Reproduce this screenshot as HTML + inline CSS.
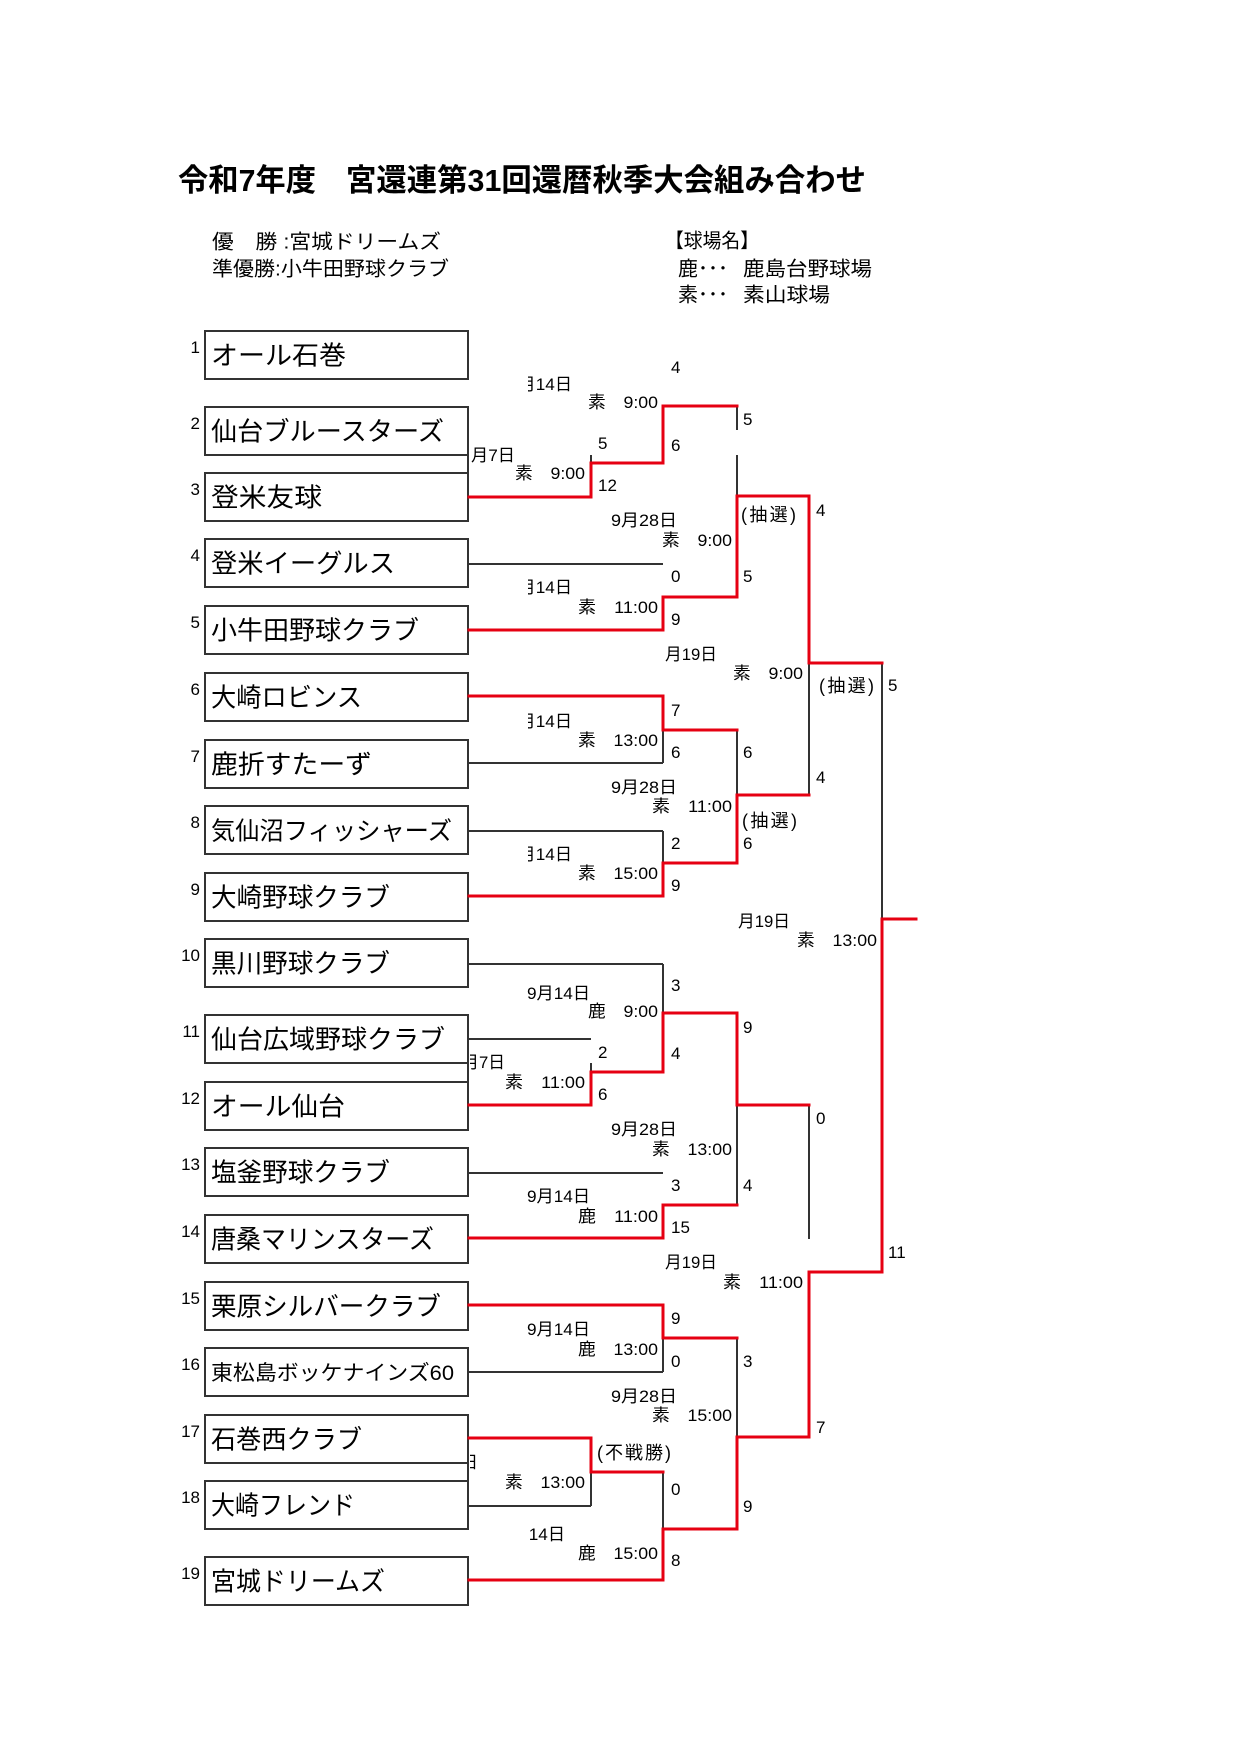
<!DOCTYPE html>
<html><head><meta charset="utf-8"><style>
html,body{margin:0;padding:0;background:#fff;}
svg{display:block;}
</style></head><body>
<svg width="1240" height="1755" viewBox="0 0 1240 1755" xmlns="http://www.w3.org/2000/svg">
<defs>
<clipPath id="c470"><rect x="470" y="0" width="800" height="1755"/></clipPath>
<clipPath id="c528"><rect x="528" y="0" width="800" height="1755"/></clipPath>
</defs>
<rect width="1240" height="1755" fill="#fff"/>

<!-- Title -->
<g font-family="'Liberation Sans','Noto Sans CJK JP',sans-serif" font-weight="700" font-size="31" fill="#000">
<text x="178" y="191" textLength="138" lengthAdjust="spacingAndGlyphs">令和7年度</text>
<text x="346" y="191" textLength="520" lengthAdjust="spacingAndGlyphs">宮還連第31回還暦秋季大会組み合わせ</text>
</g>

<!-- Header info -->
<g font-family="'Liberation Sans','Noto Sans CJK JP',sans-serif" font-size="20" fill="#000">
<text x="212" y="248.5" textLength="229" lengthAdjust="spacingAndGlyphs">優　勝 :宮城ドリームズ</text>
<text x="212" y="275.5" textLength="237" lengthAdjust="spacingAndGlyphs">準優勝:小牛田野球クラブ</text>
<text x="665" y="247.5" textLength="94" lengthAdjust="spacingAndGlyphs">【球場名】</text>
<text x="678" y="275.5">鹿･･･</text>
<text x="743" y="275.5" textLength="129" lengthAdjust="spacingAndGlyphs">鹿島台野球場</text>
<text x="678" y="301.5">素･･･</text>
<text x="743" y="301.5" textLength="87" lengthAdjust="spacingAndGlyphs">素山球場</text>
</g>

<!-- Boxes -->
<g fill="none" stroke="#333" stroke-width="2">
<rect x="205" y="331" width="263" height="48"/>
<rect x="205" y="407" width="263" height="48"/>
<rect x="205" y="473" width="263" height="48"/>
<rect x="205" y="539" width="263" height="48"/>
<rect x="205" y="606" width="263" height="48"/>
<rect x="205" y="673" width="263" height="48"/>
<rect x="205" y="740" width="263" height="48"/>
<rect x="205" y="806" width="263" height="48"/>
<rect x="205" y="873" width="263" height="48"/>
<rect x="205" y="939" width="263" height="48"/>
<rect x="205" y="1015" width="263" height="48"/>
<rect x="205" y="1082" width="263" height="48"/>
<rect x="205" y="1148" width="263" height="48"/>
<rect x="205" y="1215" width="263" height="48"/>
<rect x="205" y="1282" width="263" height="48"/>
<rect x="205" y="1348" width="263" height="48"/>
<rect x="205" y="1415" width="263" height="48"/>
<rect x="205" y="1481" width="263" height="48"/>
<rect x="205" y="1557" width="263" height="48"/>
</g>

<!-- Seed numbers -->
<g font-family="'Liberation Sans',sans-serif" font-size="17" fill="#000" text-anchor="end">
<text x="200" y="353">1</text>
<text x="200" y="429">2</text>
<text x="200" y="495">3</text>
<text x="200" y="561">4</text>
<text x="200" y="628">5</text>
<text x="200" y="695">6</text>
<text x="200" y="762">7</text>
<text x="200" y="828">8</text>
<text x="200" y="895">9</text>
<text x="200" y="961">10</text>
<text x="200" y="1037">11</text>
<text x="200" y="1104">12</text>
<text x="200" y="1170">13</text>
<text x="200" y="1237">14</text>
<text x="200" y="1304">15</text>
<text x="200" y="1370">16</text>
<text x="200" y="1437">17</text>
<text x="200" y="1503">18</text>
<text x="200" y="1579">19</text>
</g>

<!-- Team names -->
<g font-family="'Liberation Sans','Noto Sans CJK JP',sans-serif" font-size="26" fill="#000">
<text x="211" y="364.5" textLength="135" lengthAdjust="spacingAndGlyphs">オール石巻</text>
<text x="211" y="440.5" textLength="233" lengthAdjust="spacingAndGlyphs">仙台ブルースターズ</text>
<text x="211" y="506.5" textLength="111" lengthAdjust="spacingAndGlyphs">登米友球</text>
<text x="211" y="572.5" textLength="184" lengthAdjust="spacingAndGlyphs">登米イーグルス</text>
<text x="211" y="639.5" textLength="208" lengthAdjust="spacingAndGlyphs">小牛田野球クラブ</text>
<text x="211" y="706.5" textLength="151" lengthAdjust="spacingAndGlyphs">大崎ロビンス</text>
<text x="211" y="773.5" textLength="161" lengthAdjust="spacingAndGlyphs">鹿折すたーず</text>
<text x="211" y="839.5" textLength="241" lengthAdjust="spacingAndGlyphs" font-size="25">気仙沼フィッシャーズ</text>
<text x="211" y="906.5" textLength="179" lengthAdjust="spacingAndGlyphs">大崎野球クラブ</text>
<text x="211" y="972.5" textLength="179" lengthAdjust="spacingAndGlyphs">黒川野球クラブ</text>
<text x="211" y="1048.5" textLength="234" lengthAdjust="spacingAndGlyphs">仙台広域野球クラブ</text>
<text x="211" y="1115.5" textLength="134" lengthAdjust="spacingAndGlyphs">オール仙台</text>
<text x="211" y="1181.5" textLength="179" lengthAdjust="spacingAndGlyphs">塩釜野球クラブ</text>
<text x="211" y="1248.5" textLength="223" lengthAdjust="spacingAndGlyphs">唐桑マリンスターズ</text>
<text x="211" y="1315.5" textLength="230" lengthAdjust="spacingAndGlyphs">栗原シルバークラブ</text>
<text x="211" y="1380" textLength="243" lengthAdjust="spacingAndGlyphs" font-size="21">東松島ボッケナインズ60</text>
<text x="211" y="1448.5" textLength="151" lengthAdjust="spacingAndGlyphs">石巻西クラブ</text>
<text x="211" y="1514.5" textLength="144" lengthAdjust="spacingAndGlyphs">大崎フレンド</text>
<text x="211" y="1590.5" textLength="174" lengthAdjust="spacingAndGlyphs">宮城ドリームズ</text>
</g>

<!-- Black connector lines -->
<g stroke="#333" stroke-width="2" fill="none">
<path d="M468 455V473"/>
<path d="M468 1064V1082"/>
<path d="M468 1463V1481"/>
<path d="M591 455V463"/>
<path d="M663 455V463"/>
<path d="M737 406V430"/>
<path d="M737 455V496"/>
<path d="M468 564H663"/>
<path d="M663 597V607"/>
<path d="M809 663V795"/>
<path d="M882 663V919"/>
<path d="M468 763H663"/>
<path d="M663 722V763"/>
<path d="M737 730V795"/>
<path d="M468 831H663"/>
<path d="M663 831V873"/>
<path d="M468 964H663"/>
<path d="M663 964V1013"/>
<path d="M468 1039H591"/>
<path d="M591 1063V1072"/>
<path d="M737 1105V1205"/>
<path d="M663 1205V1215"/>
<path d="M468 1173H663"/>
<path d="M809 1105V1239"/>
<path d="M882 1263V1272"/>
<path d="M468 1372H663"/>
<path d="M663 1338V1372"/>
<path d="M737 1338V1437"/>
<path d="M663 1472V1529"/>
<path d="M591 1472V1506"/>
<path d="M468 1506H591"/>
</g>

<!-- Red winner lines -->
<g stroke="#e60012" stroke-width="3" fill="none" stroke-linejoin="miter" stroke-linecap="square">
<polyline points="469,497 591,497 591,463 663,463 663,406 737,406"/>
<polyline points="469,630 663,630 663,597 737,597 737,496 809,496 809,663 882,663"/>
<polyline points="469,696 663,696 663,730 737,730"/>
<polyline points="469,896 663,896 663,863 737,863 737,795 809,795"/>
<polyline points="469,1105 591,1105 591,1072 663,1072 663,1013 737,1013 737,1105 809,1105"/>
<polyline points="469,1238 663,1238 663,1205 737,1205"/>
<polyline points="469,1305 663,1305 663,1338 737,1338"/>
<polyline points="469,1438 591,1438 591,1472 663,1472"/>
<polyline points="469,1580 663,1580 663,1529 737,1529 737,1437 809,1437 809,1272 882,1272 882,919 916,919"/>
</g>

<!-- Match labels -->
<g font-family="'Liberation Sans','Noto Sans CJK JP',sans-serif" font-size="17" fill="#000">
<!-- top quarter -->
<text x="671" y="373">4</text>
<text x="509" y="390" textLength="63" lengthAdjust="spacingAndGlyphs" clip-path="url(#c528)">9月14日</text>
<text x="588" y="408" textLength="70" lengthAdjust="spacingAndGlyphs">素　9:00</text>
<text x="743" y="425">5</text>
<text x="471" y="461" textLength="44" lengthAdjust="spacingAndGlyphs">月7日</text>
<text x="598" y="449">5</text>
<text x="671" y="451">6</text>
<text x="515" y="479" textLength="70" lengthAdjust="spacingAndGlyphs">素　9:00</text>
<text x="598" y="491">12</text>
<text x="741" y="521" font-size="18" textLength="55" lengthAdjust="spacing">(抽選)</text>
<text x="816" y="516">4</text>
<text x="611" y="526" textLength="66" lengthAdjust="spacingAndGlyphs">9月28日</text>
<text x="662" y="546" textLength="70" lengthAdjust="spacingAndGlyphs">素　9:00</text>
<text x="671" y="582">0</text>
<text x="743" y="582">5</text>
<text x="509" y="593" textLength="63" lengthAdjust="spacingAndGlyphs" clip-path="url(#c528)">9月14日</text>
<text x="578" y="613" textLength="80" lengthAdjust="spacingAndGlyphs">素　11:00</text>
<text x="671" y="625">9</text>
<text x="665" y="660" textLength="52" lengthAdjust="spacingAndGlyphs">月19日</text>
<text x="733" y="679" textLength="70" lengthAdjust="spacingAndGlyphs">素　9:00</text>
<text x="819" y="692" font-size="18" textLength="55" lengthAdjust="spacing">(抽選)</text>
<text x="888" y="691">5</text>
<!-- second quarter -->
<text x="671" y="716">7</text>
<text x="509" y="727" textLength="63" lengthAdjust="spacingAndGlyphs" clip-path="url(#c528)">9月14日</text>
<text x="578" y="746" textLength="80" lengthAdjust="spacingAndGlyphs">素　13:00</text>
<text x="671" y="758">6</text>
<text x="743" y="758">6</text>
<text x="816" y="783">4</text>
<text x="611" y="793" textLength="66" lengthAdjust="spacingAndGlyphs">9月28日</text>
<text x="652" y="812" textLength="80" lengthAdjust="spacingAndGlyphs">素　11:00</text>
<text x="742" y="827" font-size="18" textLength="55" lengthAdjust="spacing">(抽選)</text>
<text x="671" y="849">2</text>
<text x="743" y="849">6</text>
<text x="509" y="860" textLength="63" lengthAdjust="spacingAndGlyphs" clip-path="url(#c528)">9月14日</text>
<text x="578" y="879" textLength="80" lengthAdjust="spacingAndGlyphs">素　15:00</text>
<text x="671" y="891">9</text>
<text x="738" y="927" textLength="52" lengthAdjust="spacingAndGlyphs">月19日</text>
<text x="797" y="946" textLength="80" lengthAdjust="spacingAndGlyphs">素　13:00</text>
<!-- third quarter -->
<text x="671" y="991">3</text>
<text x="527" y="999" textLength="63" lengthAdjust="spacingAndGlyphs">9月14日</text>
<text x="588" y="1017" textLength="70" lengthAdjust="spacingAndGlyphs">鹿　9:00</text>
<text x="743" y="1033">9</text>
<text x="598" y="1058">2</text>
<text x="671" y="1059">4</text>
<text x="453" y="1068" textLength="52" lengthAdjust="spacingAndGlyphs" clip-path="url(#c470)">9月7日</text>
<text x="505" y="1088" textLength="80" lengthAdjust="spacingAndGlyphs">素　11:00</text>
<text x="598" y="1100">6</text>
<text x="816" y="1124">0</text>
<text x="611" y="1135" textLength="66" lengthAdjust="spacingAndGlyphs">9月28日</text>
<text x="652" y="1155" textLength="80" lengthAdjust="spacingAndGlyphs">素　13:00</text>
<text x="671" y="1191">3</text>
<text x="743" y="1191">4</text>
<text x="527" y="1202" textLength="63" lengthAdjust="spacingAndGlyphs">9月14日</text>
<text x="578" y="1222" textLength="80" lengthAdjust="spacingAndGlyphs">鹿　11:00</text>
<text x="671" y="1233">15</text>
<text x="888" y="1258">11</text>
<text x="665" y="1268" textLength="52" lengthAdjust="spacingAndGlyphs">月19日</text>
<text x="723" y="1288" textLength="80" lengthAdjust="spacingAndGlyphs">素　11:00</text>
<!-- fourth quarter -->
<text x="671" y="1324">9</text>
<text x="527" y="1335" textLength="63" lengthAdjust="spacingAndGlyphs">9月14日</text>
<text x="578" y="1355" textLength="80" lengthAdjust="spacingAndGlyphs">鹿　13:00</text>
<text x="671" y="1367">0</text>
<text x="743" y="1367">3</text>
<text x="611" y="1402" textLength="66" lengthAdjust="spacingAndGlyphs">9月28日</text>
<text x="652" y="1421" textLength="80" lengthAdjust="spacingAndGlyphs">素　15:00</text>
<text x="816" y="1433">7</text>
<text x="597" y="1459" font-size="18" textLength="74" lengthAdjust="spacing">(不戦勝)</text>
<text x="426" y="1468" textLength="52" lengthAdjust="spacingAndGlyphs" clip-path="url(#c470)">9月7日</text>
<text x="505" y="1488" textLength="80" lengthAdjust="spacingAndGlyphs">素　13:00</text>
<text x="671" y="1495">0</text>
<text x="743" y="1512">9</text>
<text x="502" y="1540" textLength="63" lengthAdjust="spacingAndGlyphs" clip-path="url(#c528)">9月14日</text>
<text x="578" y="1559" textLength="80" lengthAdjust="spacingAndGlyphs">鹿　15:00</text>
<text x="671" y="1566">8</text>
</g>
</svg>
</body></html>
